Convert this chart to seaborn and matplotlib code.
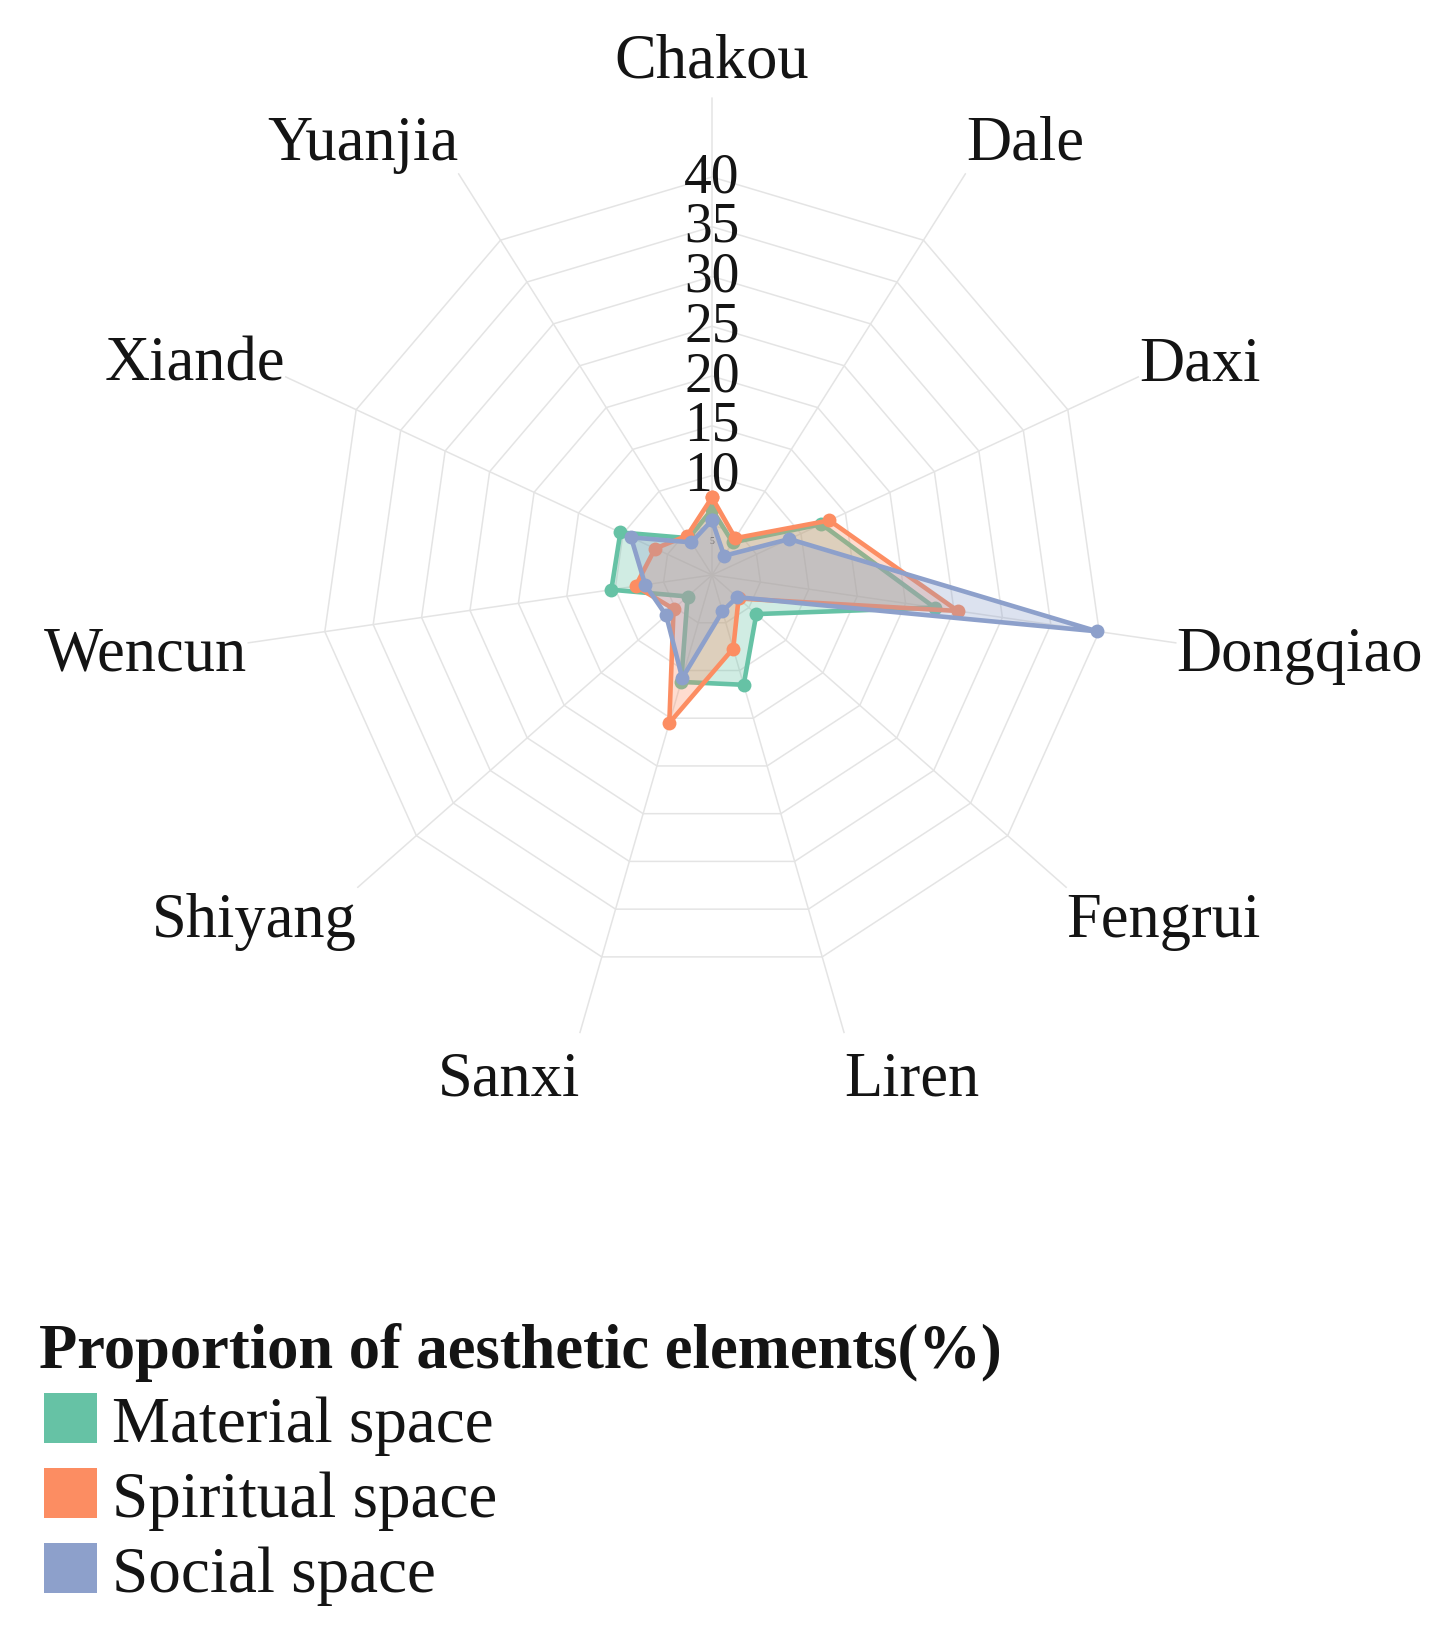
import numpy as np
import pandas as pd
import matplotlib
matplotlib.use('Agg')
import matplotlib.pyplot as plt
import seaborn as sns
from matplotlib.patches import Patch
from matplotlib.transforms import offset_copy

# ---------------- data ----------------
categories = ['Chakou', 'Dale', 'Daxi', 'Dongqiao', 'Fengrui', 'Liren',
              'Sanxi', 'Shiyang', 'Wencun', 'Xiande', 'Yuanjia']
material_space = [6.6, 3.9, 12.3, 23.0, 6.0, 11.5, 11.2, 3.3, 10.4, 10.3, 4.4]
spiritual_space = [7.8, 4.4, 13.2, 25.4, 3.6, 7.7, 15.5, 5.2, 7.9, 6.4, 4.7]
social_space = [5.5, 2.3, 8.7, 39.8, 3.4, 3.8, 10.8, 6.2, 6.9, 9.1, 3.9]
series_names = ['Material space', 'Spiritual space', 'Social space']
radial_ticks = [5, 10, 15, 20, 25, 30, 35, 40]
legend_title = 'Proportion of aesthetic elements(%)'

# ---------------- style ----------------
sns.set_theme(style='white')
plt.rcParams['font.family'] = ['Liberation Serif', 'DejaVu Serif']
palette = sns.color_palette('Set2', 3)
TEXT = '#141414'

n = len(categories)
theta = np.linspace(0, 2 * np.pi, n, endpoint=False)
R_MAX = 48

fig = plt.figure(figsize=(14.48, 16.40), dpi=100)
ax = fig.add_axes([0.16754, 0.35756, 0.64834, 0.58244], projection='polar')
ax.set_aspect('auto')
ax.set_theta_zero_location('N')
ax.set_theta_direction(-1)
ax.grid(False)
ax.spines['polar'].set_visible(False)
ax.patch.set_alpha(0)

# polygon grid
grid_kw = dict(color='#e4e4e4', lw=1.1, zorder=1)
closed_theta = np.append(theta, theta[0])
for v in radial_ticks:
    ax.plot(closed_theta, [v] * (n + 1), **grid_kw)
for t in theta:
    ax.plot([t, t], [0, R_MAX], **grid_kw)

# radial tick labels
for v in radial_ticks[1:]:
    tr = offset_copy(ax.transData, fig=fig, x=0, y=-14, units='dots')
    ax.text(0, v, str(v), transform=tr, ha='center', va='baseline',
            fontsize=40, color=TEXT, zorder=2)
ax.text(0, 3.5, '5', ha='center', va='center', fontsize=7, color=TEXT, zorder=2)

# data
df = pd.DataFrame({
    'category': categories * 3,
    'theta': list(theta) * 3,
    'value': material_space + spiritual_space + social_space,
    'series': np.repeat(series_names, n),
})
for name, color in zip(series_names, palette):
    sub = df[df['series'] == name]
    sub = pd.concat([sub, sub.iloc[[0]]], ignore_index=True)
    ax.fill(sub['theta'], sub['value'], color=color, alpha=0.3, lw=0, zorder=3)
    sns.lineplot(data=sub, x='theta', y='value', sort=False, estimator=None,
                 color=color, lw=3.3, marker='o', markersize=10,
                 markeredgewidth=0, ax=ax, zorder=3, legend=False)

ax.set_xlabel('')
ax.set_ylabel('')
ax.set_xticks([])
ax.set_yticks([])
ax.set_ylim(0, R_MAX)

# category labels
for t, name in zip(theta, categories):
    phi = np.pi / 2 - t
    c, s = np.cos(phi), np.sin(phi)
    ha = 'left' if c > 0.05 else ('right' if c < -0.05 else 'center')
    tr = offset_copy(ax.transData, fig=fig, x=0, y=42 * s - 20.7, units='dots')
    ax.text(t, R_MAX, name, transform=tr, ha=ha, va='baseline',
            fontsize=45, color=TEXT, clip_on=False)

# legend
fig.text(39 / 1448, 1 - 1368 / 1640, legend_title, ha='left', va='baseline',
         fontsize=45, fontweight='bold', color=TEXT)
handles = [Patch(facecolor=c, edgecolor='none') for c in palette]
leg = fig.legend(handles, series_names, loc='upper left',
                 bbox_to_anchor=(44 / 1448, 1 - 1394 / 1640),
                 frameon=False, fontsize=47,
                 handlelength=0.81, handleheight=0.81,
                 handletextpad=0.23, labelspacing=0.2, borderpad=0,
                 borderaxespad=0)
for txt in leg.get_texts():
    txt.set_color(TEXT)

fig.savefig('out.png', dpi=100)
